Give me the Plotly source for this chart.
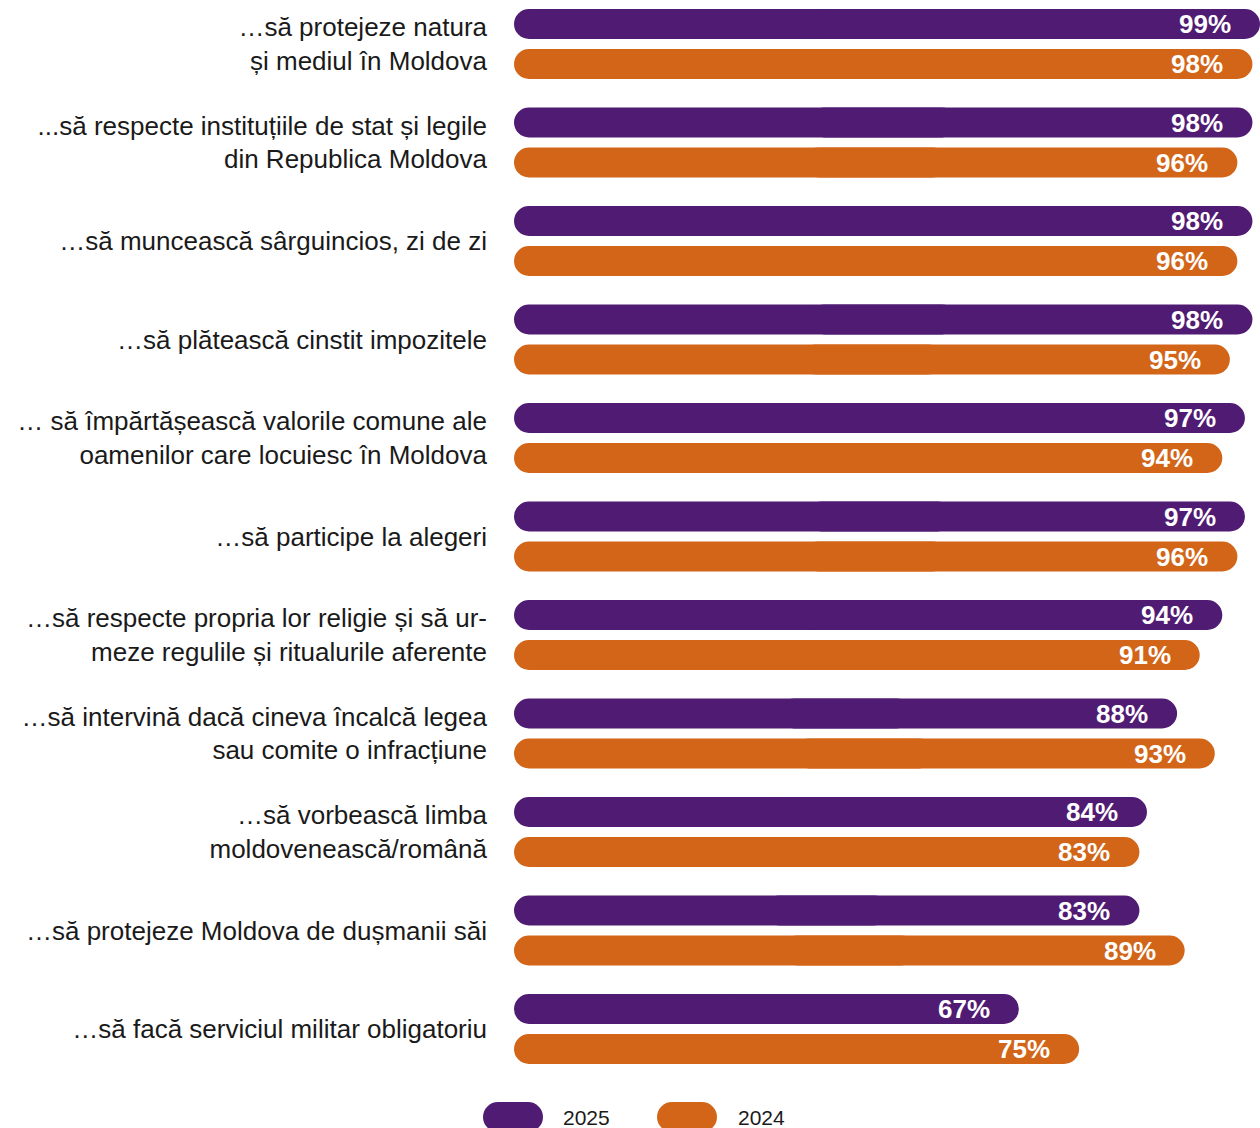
import plotly.graph_objects as go

categories = [
    "…să protejeze natura<br>și mediul în Moldova",
    "...să respecte instituțiile de stat și legile<br>din Republica Moldova",
    "…să muncească sârguincios, zi de zi",
    "…să plătească cinstit impozitele",
    "… să împărtășească valorile comune ale<br>oamenilor care locuiesc în Moldova",
    "…să participe la alegeri",
    "…să respecte propria lor religie și să ur-<br>meze regulile și ritualurile aferente",
    "…să intervină dacă cineva încalcă legea<br>sau comite o infracțiune",
    "…să vorbească limba<br>moldovenească/română",
    "…să protejeze Moldova de dușmanii săi",
    "…să facă serviciul militar obligatoriu",
]
values_2025 = [99, 98, 98, 98, 97, 97, 94, 88, 84, 83, 67]
values_2024 = [98, 96, 96, 95, 94, 96, 91, 93, 83, 89, 75]
series_names = ["2025", "2024"]

PURPLE = "#501B73"
ORANGE = "#D26518"
FONT = "Liberation Sans, Arial, sans-serif"

W, H = 1260, 1128
ML, MR, MT, MB = 514, 0, 0, 48
plot_h = H - MT - MB
pitch = 98.5          # px per category
first_center = 44     # px
bar_px = 30
gap_px = 10

y_top = -first_center / pitch
y_bot = (plot_h - first_center) / pitch
bw = bar_px / pitch
offsets = [-(bar_px + gap_px / 2) / pitch, (gap_px / 2) / pitch]

ypos = list(range(len(categories)))
fig = go.Figure()

for vals, col, off, name in zip([values_2025, values_2024], [PURPLE, ORANGE], offsets, series_names):
    # left part rounded at 0
    fig.add_trace(go.Bar(
        y=ypos, x=[-0.6 * v for v in vals], base=[0.6 * v for v in vals],
        orientation="h", width=bw, offset=off, marker=dict(color=col, cornerradius=15, line=dict(width=0)),
        showlegend=False, hoverinfo="skip", name=name))
    # right part rounded at value
    fig.add_trace(go.Bar(
        y=ypos, x=[0.6 * v for v in vals], base=[0.4 * v for v in vals],
        orientation="h", width=bw, offset=off, marker=dict(color=col, cornerradius=15, line=dict(width=0)),
        showlegend=False, name=name,
        customdata=vals, hovertemplate=name + ": %{customdata}%<extra></extra>"))
    for i, v in enumerate(vals):
        fig.add_annotation(x=v, y=i + off + bw / 2, xref="x", yref="y",
                           text=f"{v}%", showarrow=False, xanchor="right", yanchor="middle",
                           xshift=-27, font=dict(family=FONT, size=26, color="white", weight="bold"))

fig.update_layout(
    width=W, height=H,
    margin=dict(l=ML, r=MR, t=MT, b=MB),
    paper_bgcolor="white", plot_bgcolor="white",
    barmode="overlay",
    showlegend=False,
    font=dict(family=FONT, color="#1a1a1a"),
)
fig.update_xaxes(range=[0, 99.0], visible=False, fixedrange=True)
fig.update_yaxes(range=[y_bot, y_top], tickvals=ypos, ticktext=categories,
                 tickfont=dict(family=FONT, size=26, color="#1a1a1a"),
                 showgrid=False, zeroline=False, showline=False, ticks="",
                 ticklabelstandoff=26, fixedrange=True)

# Custom pill legend
plot_w = W - ML - MR
def px2paper_x(px):
    return (px - ML) / plot_w
def px2paper_y(py):
    return (plot_h + MT - py) / plot_h

legend_items = [(series_names[0], PURPLE, 513, 561), (series_names[1], ORANGE, 687, 736)]
for name, col, cx, tx in legend_items:
    ax, ay = px2paper_x(cx), px2paper_y(1117)
    for (x0, x1, typ) in [(-30, 0, "circle"), (-15, 15, "rect"), (0, 30, "circle")]:
        fig.add_shape(type=typ, xref="paper", yref="paper", xsizemode="pixel", ysizemode="pixel",
                      xanchor=ax, yanchor=ay, x0=x0, x1=x1, y0=-15, y1=15,
                      fillcolor=col, line=dict(width=0), layer="above")
    fig.add_annotation(x=px2paper_x(tx), y=ay, xref="paper", yref="paper", text=name,
                       showarrow=False, xanchor="left", yanchor="middle",
                       font=dict(family=FONT, size=21, color="#1a1a1a"))

fig.write_html("out.html", config={"displayModeBar": False},
               post_script="document.body.style.margin='0';document.body.style.overflow='hidden';")
